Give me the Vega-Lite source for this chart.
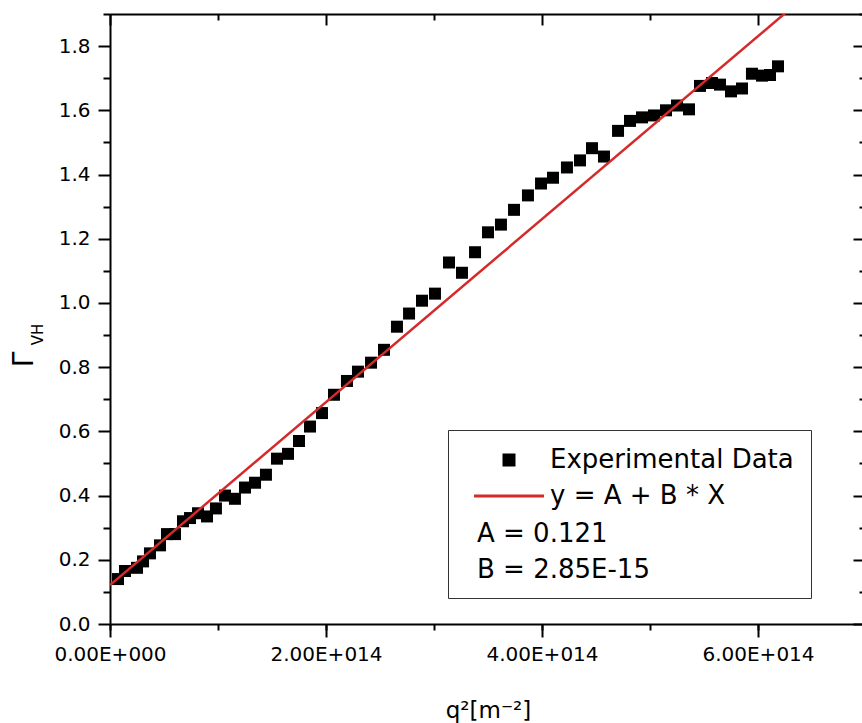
{
  "$schema": "https://vega.github.io/schema/vega-lite/v6.json",
  "width": 756,
  "height": 610,
  "autosize": "none",
  "padding": {"left": 110, "top": 14, "right": 0, "bottom": 99},
  "background": "white",
  "config": {
    "view": {"stroke": null},
    "font": "DejaVu Sans",
    "axis": {
      "grid": false,
      "domainColor": "black",
      "domainWidth": 2,
      "tickColor": "black",
      "tickWidth": 2,
      "labelColor": "black",
      "titleColor": "black",
      "labelFont": "DejaVu Sans",
      "titleFont": "DejaVu Sans",
      "titleFontWeight": "normal",
      "labelFlush": false
    }
  },
  "datasets": {
    "measured": [
      {"q2": 7.4e12, "gamma": 0.14},
      {"q2": 1.39e13, "gamma": 0.165},
      {"q2": 2.5e13, "gamma": 0.175},
      {"q2": 3.06e13, "gamma": 0.195},
      {"q2": 3.7e13, "gamma": 0.22},
      {"q2": 4.63e13, "gamma": 0.245},
      {"q2": 5.28e13, "gamma": 0.28},
      {"q2": 6.02e13, "gamma": 0.28},
      {"q2": 6.76e13, "gamma": 0.32},
      {"q2": 7.41e13, "gamma": 0.33},
      {"q2": 8.15e13, "gamma": 0.345},
      {"q2": 8.98e13, "gamma": 0.335},
      {"q2": 9.81e13, "gamma": 0.36},
      {"q2": 1.065e14, "gamma": 0.4},
      {"q2": 1.157e14, "gamma": 0.39},
      {"q2": 1.25e14, "gamma": 0.425},
      {"q2": 1.343e14, "gamma": 0.44},
      {"q2": 1.444e14, "gamma": 0.465},
      {"q2": 1.546e14, "gamma": 0.515},
      {"q2": 1.648e14, "gamma": 0.53},
      {"q2": 1.75e14, "gamma": 0.57},
      {"q2": 1.852e14, "gamma": 0.615},
      {"q2": 1.963e14, "gamma": 0.657},
      {"q2": 2.074e14, "gamma": 0.714},
      {"q2": 2.194e14, "gamma": 0.757},
      {"q2": 2.296e14, "gamma": 0.786},
      {"q2": 2.417e14, "gamma": 0.814},
      {"q2": 2.537e14, "gamma": 0.854},
      {"q2": 2.657e14, "gamma": 0.926},
      {"q2": 2.769e14, "gamma": 0.967},
      {"q2": 2.889e14, "gamma": 1.007},
      {"q2": 3.009e14, "gamma": 1.029},
      {"q2": 3.139e14, "gamma": 1.126},
      {"q2": 3.259e14, "gamma": 1.094},
      {"q2": 3.38e14, "gamma": 1.158},
      {"q2": 3.5e14, "gamma": 1.22},
      {"q2": 3.62e14, "gamma": 1.244},
      {"q2": 3.741e14, "gamma": 1.29},
      {"q2": 3.87e14, "gamma": 1.335},
      {"q2": 3.991e14, "gamma": 1.372},
      {"q2": 4.102e14, "gamma": 1.39},
      {"q2": 4.231e14, "gamma": 1.422},
      {"q2": 4.352e14, "gamma": 1.444},
      {"q2": 4.463e14, "gamma": 1.482},
      {"q2": 4.574e14, "gamma": 1.456},
      {"q2": 4.704e14, "gamma": 1.536},
      {"q2": 4.815e14, "gamma": 1.567},
      {"q2": 4.926e14, "gamma": 1.578},
      {"q2": 5.037e14, "gamma": 1.584},
      {"q2": 5.148e14, "gamma": 1.6},
      {"q2": 5.25e14, "gamma": 1.615},
      {"q2": 5.361e14, "gamma": 1.603},
      {"q2": 5.463e14, "gamma": 1.676},
      {"q2": 5.574e14, "gamma": 1.685},
      {"q2": 5.648e14, "gamma": 1.68},
      {"q2": 5.75e14, "gamma": 1.659},
      {"q2": 5.852e14, "gamma": 1.668},
      {"q2": 5.944e14, "gamma": 1.714},
      {"q2": 6.037e14, "gamma": 1.708},
      {"q2": 6.111e14, "gamma": 1.71},
      {"q2": 6.185e14, "gamma": 1.737}
    ],
    "fit": [
      {"q2": 0, "gamma": 0.121},
      {"q2": 7e14, "gamma": 2.116}
    ]
  },
  "resolve": {
    "scale": {"x": "shared", "y": "shared"},
    "axis": {"x": "independent", "y": "independent"}
  },
  "layer": [
    {
      "data": {"name": "measured"},
      "mark": {"type": "point", "filled": true, "size": 144, "opacity": 1, "strokeWidth": 0},
      "encoding": {
        "x": {
          "field": "q2", "type": "quantitative",
          "scale": {"domain": [0, 7e14], "nice": false, "zero": false},
          "axis": {
            "orient": "bottom",
            "values": [0, 2e14, 4e14, 6e14],
            "labelExpr": "datum.value == 0 ? '0.00E+000' : format(datum.value / 1e14, '.2f') + 'E+014'",
            "labelFontSize": 20, "labelPadding": 7, "tickSize": 13,
            "title": "q²[m⁻²]", "titleFontSize": 23,
            "titleAlign": "center", "titleBaseline": "alphabetic",
            "titleX": 378, "titleY": 93
          }
        },
        "y": {
          "field": "gamma", "type": "quantitative",
          "scale": {"domain": [0, 1.9], "nice": false, "zero": false},
          "axis": {
            "orient": "left",
            "values": [0, 0.2, 0.4, 0.6, 0.8, 1.0, 1.2, 1.4, 1.6, 1.8],
            "format": ".1f",
            "labelFontSize": 20, "labelPadding": 8, "tickSize": 12,
            "title": "Γ", "titleFontSize": 28, "titleAngle": 270,
            "titleAlign": "center", "titleBaseline": "alphabetic",
            "titleX": -78, "titleY": 345
          }
        },
        "color": {
          "datum": "Experimental Data", "type": "nominal",
          "scale": {
            "domain": ["Experimental Data", "y = A + B * X", "A = 0.121", "B = 2.85E-15"],
            "range": ["#000000", "#d42a2a", "#ffffff", "#ffffff"]
          },
          "legend": {
            "orient": "none", "legendX": 338, "legendY": 416,
            "title": null,
            "symbolSize": 100,
            "symbolStrokeWidth": 3,
            "symbolOffset": 31,
            "labelOffset": 28,
            "labelExpr": "datum.index >= 2 ? '' : datum.label",
            "labelFont": "DejaVu Sans", "labelFontSize": 26, "labelColor": "black",
            "labelLimit": 500,
            "padding": 17,
            "rowPadding": 10,
            "strokeColor": "#333333"
          }
        },
        "shape": {
          "datum": "Experimental Data", "type": "nominal",
          "scale": {
            "domain": ["Experimental Data", "y = A + B * X", "A = 0.121", "B = 2.85E-15"],
            "range": ["square", "M-7,0L7,0", "square", "square"]
          },
          "legend": {
            "orient": "none", "legendX": 338, "legendY": 416,
            "title": null,
            "symbolSize": 100,
            "symbolStrokeWidth": 3,
            "symbolOffset": 31,
            "labelOffset": 28,
            "labelExpr": "datum.index >= 2 ? '' : datum.label",
            "labelFont": "DejaVu Sans", "labelFontSize": 26, "labelColor": "black",
            "labelLimit": 500,
            "padding": 17,
            "rowPadding": 10,
            "strokeColor": "#333333"
          }
        }
      }
    },
    {
      "data": {"name": "fit"},
      "mark": {"type": "line", "clip": true, "strokeWidth": 2.5},
      "encoding": {
        "x": {
          "field": "q2", "type": "quantitative",
          "scale": {"domain": [0, 7e14], "nice": false, "zero": false},
          "axis": {
            "orient": "bottom",
            "values": [0, 1e14, 2e14, 3e14, 4e14, 5e14, 6e14, 7e14],
            "labels": false, "domain": false, "tickSize": 6, "title": null
          }
        },
        "y": {
          "field": "gamma", "type": "quantitative",
          "scale": {"domain": [0, 1.9], "nice": false, "zero": false},
          "axis": {
            "orient": "left",
            "values": [0.1, 0.3, 0.5, 0.7, 0.9, 1.1, 1.3, 1.5, 1.7, 1.9],
            "labels": false, "domain": false, "tickSize": 7,
            "title": "VH", "titleFontSize": 15, "titleAngle": 270,
            "titleAlign": "center", "titleBaseline": "alphabetic",
            "titleX": -68, "titleY": 320
          }
        },
        "color": {"datum": "y = A + B * X", "type": "nominal"}
      }
    },
    {
      "data": {"name": "measured"},
      "mark": {"type": "point", "opacity": 0, "filled": true},
      "encoding": {
        "x": {
          "field": "q2", "type": "quantitative",
          "scale": {"domain": [0, 7e14], "nice": false, "zero": false},
          "axis": {
            "orient": "top",
            "values": [0, 2e14, 4e14, 6e14],
            "labels": false, "domain": true, "tickSize": -11, "title": null
          }
        },
        "y": {
          "field": "gamma", "type": "quantitative",
          "scale": {"domain": [0, 1.9], "nice": false, "zero": false},
          "axis": {
            "orient": "right",
            "values": [0, 0.2, 0.4, 0.6, 0.8, 1.0, 1.2, 1.4, 1.6, 1.8],
            "labels": false, "domain": true, "tickSize": -13, "title": null
          }
        },
        "fill": {
          "datum": "A = 0.121", "type": "nominal",
          "scale": {"domain": ["A = 0.121", "B = 2.85E-15"], "range": ["#ffffff", "#ffffff"]},
          "legend": {
            "orient": "none", "legendX": 341, "legendY": 507,
            "title": null,
            "symbolSize": 0,
            "symbolStrokeWidth": 0,
            "symbolOffset": 0,
            "labelOffset": 0,
            "labelFont": "DejaVu Sans", "labelFontSize": 26, "labelColor": "black",
            "labelLimit": 500,
            "padding": 0,
            "rowPadding": 10
          }
        }
      }
    },
    {
      "data": {"name": "measured"},
      "mark": {"type": "point", "opacity": 0},
      "encoding": {
        "x": {
          "field": "q2", "type": "quantitative",
          "scale": {"domain": [0, 7e14], "nice": false, "zero": false},
          "axis": {
            "orient": "top",
            "values": [1e14, 3e14, 5e14, 7e14],
            "labels": false, "domain": false, "tickSize": -6, "title": null
          }
        },
        "y": {
          "field": "gamma", "type": "quantitative",
          "scale": {"domain": [0, 1.9], "nice": false, "zero": false},
          "axis": {
            "orient": "right",
            "values": [0.1, 0.3, 0.5, 0.7, 0.9, 1.1, 1.3, 1.5, 1.7, 1.9],
            "labels": false, "domain": false, "tickSize": -7, "title": null
          }
        }
      }
    }
  ]
}
